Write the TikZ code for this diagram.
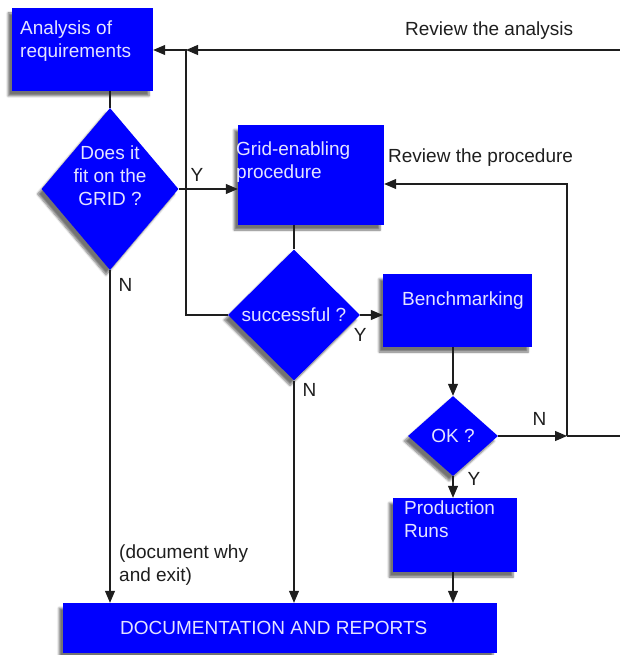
\documentclass[tikz,border=0pt]{standalone}
\usepackage{fontspec}
\setmainfont{Liberation Sans}
\usetikzlibrary{shapes.geometric, arrows.meta, shadows.blur}
\definecolor{stepblue}{RGB}{0, 0, 255}
\definecolor{steptext}{RGB}{228, 228, 255}
\definecolor{inkgray}{RGB}{30, 30, 30}

\begin{document}
\begin{tikzpicture}[x=1pt, y=-1pt, font=\fontsize{19}{23}\selectfont,
  box/.style={fill=stepblue, inner sep=0pt, text=steptext, blur shadow={shadow xshift=-4pt, shadow yshift=-5pt, shadow opacity=55, shadow blur steps=6}},
  decision/.style={box, diamond},
  boxtext/.style={text=steptext, align=left, inner sep=0pt, anchor=north west},
  note/.style={text=inkgray, align=left, inner sep=0pt},
  link/.style={line width=1.1pt, inkgray},
  arr/.style={link, -{Triangle[length=12pt, width=10pt]}}
]
  \useasboundingbox (0,0) rectangle (620,655);

  \node[box, minimum width=141pt, minimum height=83pt] (analysis) at (82.5, 49.5) {};
  \node[decision, minimum width=137pt, minimum height=162pt] (fit) at (110, 189) {};
  \node[box, minimum width=146pt, minimum height=100pt] (grid) at (311, 175) {};
  \node[decision, minimum width=132pt, minimum height=131pt] (succ) at (294, 315) {successful ?};
  \node[box, minimum width=149pt, minimum height=73pt] (bench) at (457.5, 310.5) {};
  \node[decision, minimum width=90pt, minimum height=80pt] (ok) at (453, 436) {OK ?};
  \node[box, minimum width=124pt, minimum height=74pt] (prod) at (455, 535) {};
  \node[box, minimum width=434pt, minimum height=50pt] (doc) at (280, 628) {};

  \node[boxtext] (analysis-t) at (20, 21) {Analysis of\\requirements};
  \node[boxtext, anchor=north, align=center] (fit-t) at (110, 146) {Does it\\fit on the\\GRID ?};
  \node[boxtext] (grid-t) at (236, 142) {Grid-enabling\\procedure};
  \node[boxtext] (bench-t) at (402, 292) {Benchmarking};
  \node[boxtext] (prod-t) at (404, 501) {Production\\Runs};
  \node[boxtext, anchor=west] (doc-t) at (120, 628) {DOCUMENTATION AND REPORTS};

  \coordinate (topin) at (620, 50);
  \coordinate (loop) at (186, 50);
  \coordinate (split) at (567, 436);
  \coordinate (rightin) at (620, 436);
  \coordinate (back) at (567, 184);

  \draw[link] (analysis.south -| fit.north) -- (fit.north);
  \draw[arr] (fit.east) -- (fit.east -| grid.west) node[note, pos=0.31, above=7pt] {Y};
  \draw[arr] (fit.south) -- (fit.south |- doc.north) node[note, pos=0.045, right=8pt] {N};
  \draw[link] (grid.south -| succ.north) -- (succ.north);
  \draw[arr] (succ.east) -- (succ.east -| bench.west) node[note, pos=0, below=13pt] {Y};
  \draw[arr] (succ.south) -- (succ.south |- doc.north) node[note, pos=0.04, right=8pt] {N};
  \draw[arr] (bench.south -| ok.north) -- (ok.north);
  \draw[arr] (ok.south) -- (ok.south |- prod.north) node[note, pos=0.15, right=14pt] {Y};
  \draw[arr] (ok.south |- prod.south) -- (ok.south |- doc.north);

  \draw[arr] (topin) -- (loop);
  \draw[arr] (succ.west) -- (succ.west -| loop) -- (loop) -- (loop -| analysis.east);
  \draw[arr] (ok.east) -- (split) node[note, pos=0.6, above=10pt] {N};
  \draw[link] (split) -- (rightin);
  \draw[arr] (split) -- (back) -- (back -| grid.east);

  \node[note, anchor=base west] (rev-a) at (405, 36) {Review the analysis};
  \node[note, anchor=base west] (rev-p) at (388, 163) {Review the procedure};
  \node[note, anchor=north west] (exit) at (119, 545) {(document why\\and exit)};
\end{tikzpicture}
\end{document}
